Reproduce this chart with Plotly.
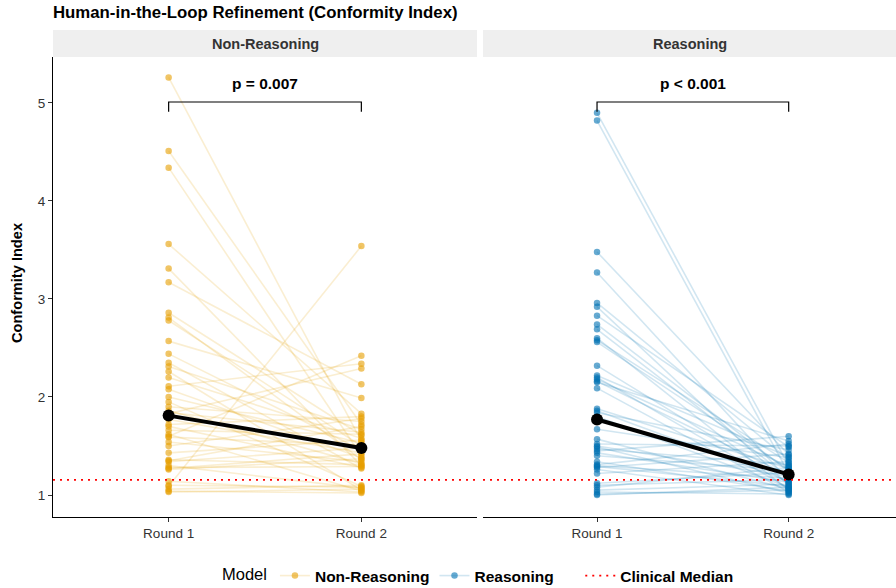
import statistics
import plotly.graph_objects as go

# ---------------- data ----------------
rounds = ["Round 1", "Round 2"]
round_pos = [1, 2]
facets = ["Non-Reasoning", "Reasoning"]

# paired values (same index = same case)
nonreason_r1 = [5.26, 4.51, 4.34, 3.56, 3.31, 3.17, 2.86, 2.81, 2.78, 2.57, 2.44, 2.35,
                2.31, 2.26, 2.20, 2.11, 2.08, 2.00, 1.95, 1.90, 1.86, 1.84, 1.83, 1.81,
                1.77, 1.72, 1.70, 1.66, 1.62, 1.60, 1.59, 1.54, 1.50, 1.43, 1.36, 1.35,
                1.34, 1.30, 1.28, 1.27, 1.26, 1.14, 1.10, 1.09, 1.06, 1.04, 1.03]
nonreason_r2 = [1.55, 1.72, 1.40, 1.83, 1.30, 2.13, 1.61, 1.36, 1.50, 1.99, 1.46, 1.27,
                1.67, 1.05, 1.58, 2.34, 1.38, 1.53, 1.09, 1.75, 1.32, 1.64, 2.29, 1.49,
                1.43, 1.80, 1.28, 1.62, 1.04, 2.42, 1.51, 1.34, 1.78, 1.56, 1.31, 1.70,
                1.48, 1.07, 1.29, 1.42, 1.37, 1.03, 1.08, 3.54, 1.10, 1.02, 1.06]
reason_r1 = [4.90, 4.82, 3.48, 3.27, 2.96, 2.92, 2.83, 2.74, 2.69, 2.60, 2.58, 2.56,
             2.32, 2.22, 2.20, 2.18, 2.16, 2.15, 2.09, 1.88, 1.86, 1.84, 1.80, 1.77,
             1.67, 1.57, 1.52, 1.50, 1.49, 1.47, 1.45, 1.43, 1.40, 1.34, 1.31, 1.30,
             1.29, 1.28, 1.26, 1.22, 1.12, 1.10, 1.08, 1.05, 1.03, 1.01, 1.00]
reason_r2 = [1.30, 1.22, 1.41, 1.15, 1.36, 1.10, 1.49, 1.24, 1.18, 1.05, 1.33, 1.26,
             1.12, 1.39, 1.07, 1.29, 1.20, 1.55, 1.03, 1.27, 1.14, 1.46, 1.08, 1.21,
             1.38, 1.06, 1.50, 1.19, 1.02, 1.31, 1.60, 1.13, 1.25, 1.04, 1.52, 1.17,
             1.09, 1.42, 1.00, 1.34, 1.23, 1.16, 1.28, 1.11, 1.01, 1.05, 1.08]

clinical_median = 1.155
p_labels = ["p = 0.007", "p < 0.001"]
bracket_y = 5.01
bracket_drop = 0.10
p_label_y = 5.20
y_ticks = [1, 2, 3, 4, 5]

# ---------------- styling ----------------
FONT = "Liberation Sans, Arial, sans-serif"
W, H = 896, 588
colors = {"Non-Reasoning": (230, 159, 0), "Reasoning": (0, 114, 178)}
data = {"Non-Reasoning": (nonreason_r1, nonreason_r2),
        "Reasoning": (reason_r1, reason_r2)}

panel_px = [(53, 477), (483, 896)]
panel_top, panel_bot = 57, 517
strip_top = 30
x_ranges = [[0.4, 2.6], [0.405, 2.56]]
y_range = [0.7755, 5.469]

legend_names = {"Non-Reasoning": "<b>Non-Reasoning</b>",
                "Reasoning": "<b>Reasoning</b>" + "&nbsp;" * 5,
                "Clinical Median": "<b>Clinical Median</b>"}

fig = go.Figure()

for i, facet in enumerate(facets):
    xa = "x" if i == 0 else "x2"
    ya = "y" if i == 0 else "y2"
    r1, r2 = data[facet]
    c = colors[facet]
    xs, ys = [], []
    for a, b in zip(r1, r2):
        xs += [round_pos[0], round_pos[1], None]
        ys += [a, b, None]
    fig.add_trace(go.Scatter(
        x=xs, y=ys, mode="lines+markers", name=legend_names[facet], xaxis=xa, yaxis=ya,
        line=dict(color=f"rgba({c[0]},{c[1]},{c[2]},0.18)", width=1.6),
        marker=dict(color=f"rgba({c[0]},{c[1]},{c[2]},0.6)", size=6.5),
        showlegend=True, hoverinfo="skip"))
    # summary (median) line
    med = [statistics.median(r1), statistics.median(r2)]
    fig.add_trace(go.Scatter(
        x=round_pos, y=med, mode="lines+markers", xaxis=xa, yaxis=ya,
        line=dict(color="black", width=4), marker=dict(color="black", size=12),
        showlegend=False, hoverinfo="skip"))
    # clinical median reference line
    fig.add_trace(go.Scatter(
        x=x_ranges[i], y=[clinical_median, clinical_median], mode="lines",
        name=legend_names["Clinical Median"], xaxis=xa, yaxis=ya,
        line=dict(color="red", width=1.8, dash="2px,5px"),
        showlegend=(i == 1), hoverinfo="skip"))
    # significance bracket
    fig.add_shape(type="path", xref=xa, yref=ya,
                  path=(f"M {round_pos[0]},{bracket_y - bracket_drop} L {round_pos[0]},{bracket_y} "
                        f"L {round_pos[1]},{bracket_y} L {round_pos[1]},{bracket_y - bracket_drop}"),
                  line=dict(color="black", width=1.2))
    fig.add_annotation(x=(round_pos[0] + round_pos[1]) / 2, y=p_label_y, xref=xa, yref=ya,
                       text=f"<b>{p_labels[i]}</b>", showarrow=False,
                       font=dict(size=15.5, color="black", family=FONT))
    # strip
    x0, x1 = panel_px[i]
    fig.add_shape(type="rect", xref="paper", yref="paper",
                  x0=x0 / W, x1=x1 / W, y0=(H - panel_top) / H, y1=(H - strip_top) / H,
                  fillcolor="#EFEFEF", line=dict(width=0), layer="below")
    fig.add_annotation(x=(x0 + x1) / 2 / W, y=(H - (panel_top + strip_top) / 2) / H,
                       xref="paper", yref="paper", text=f"<b>{facet}</b>", showarrow=False,
                       xanchor="center", yanchor="middle",
                       font=dict(size=14.5, color="#333333", family=FONT))

axis_common = dict(showgrid=False, zeroline=False, showline=True, linecolor="black",
                   linewidth=1, ticks="outside", ticklen=4, tickcolor="#333333",
                   tickfont=dict(size=13.5, color="#333333", family=FONT))
yd = [(H - panel_bot) / H, (H - panel_top) / H]

fig.update_layout(
    width=W, height=H, autosize=False,
    margin=dict(l=0, r=0, t=0, b=0, pad=0, autoexpand=False),
    plot_bgcolor="white", paper_bgcolor="white",
    font=dict(family=FONT, color="black"),
    title=dict(text="<b>Human-in-the-Loop Refinement (Conformity Index)</b>",
               x=53 / W, xanchor="left", y=1 - 12 / H, yanchor="middle",
               font=dict(size=16.8, color="black", family=FONT)),
    xaxis=dict(domain=[panel_px[0][0] / W, panel_px[0][1] / W], range=x_ranges[0],
               tickvals=round_pos, ticktext=rounds, anchor="y", **axis_common),
    xaxis2=dict(domain=[panel_px[1][0] / W, panel_px[1][1] / W], range=x_ranges[1],
                tickvals=round_pos, ticktext=rounds, anchor="y2", **axis_common),
    yaxis=dict(domain=yd, range=y_range, tickvals=y_ticks, anchor="x", **axis_common),
    yaxis2=dict(domain=yd, range=y_range, tickvals=y_ticks, anchor="x2",
                showgrid=False, zeroline=False, showline=False, showticklabels=False,
                ticks=""),
    legend=dict(orientation="h", x=220 / W, xanchor="left",
                yref="container", y=12 / H, yanchor="middle",
                title=dict(text="Model", font=dict(size=16.5, family=FONT)),
                font=dict(size=15.5, family=FONT), bgcolor="rgba(0,0,0,0)"),
    showlegend=True,
)

fig.add_annotation(x=17 / W, y=(H - 283) / H, xref="paper", yref="paper",
                   text="<b>Conformity Index</b>", textangle=-90, showarrow=False,
                   xanchor="center", yanchor="middle",
                   font=dict(size=14.6, color="black", family=FONT))

post = ("document.body.style.margin='0';document.body.style.padding='0';"
        "document.body.style.overflow='hidden';")
fig.write_html("out.html", config={"responsive": False, "displayModeBar": False},
               post_script=post)
